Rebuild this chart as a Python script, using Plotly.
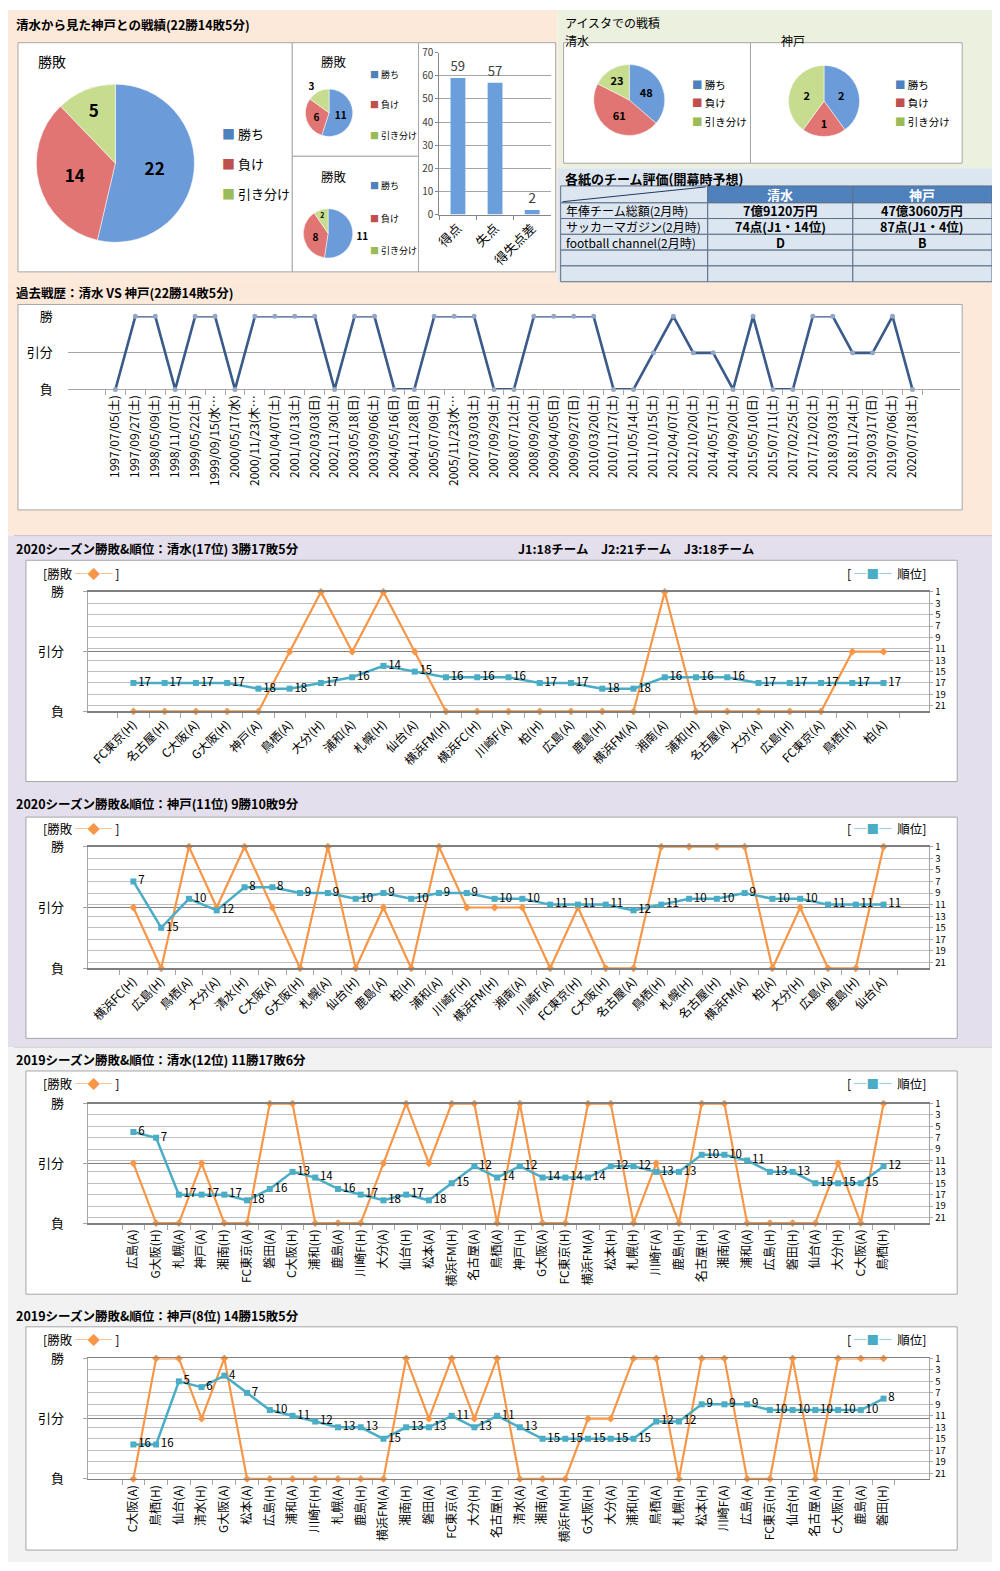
import plotly.graph_objects as go

# reference canvas is 1000x1571; the page adds an 8px body margin, so the figure is
# 984x1555 and every layout coordinate below is given in reference pixels.
W, H = 1000, 1571
OX, OY = 8, 8
FW, FH = W - 2 * OX, H - 2 * OY
JP = "Noto Sans CJK JP"

# ---------------- data ----------------
wl_labels = ["勝ち", "負け", "引き分け"]
vs_total = [22, 14, 5]
vs_small1 = [11, 6, 3]
vs_small2 = [11, 8, 2]
goal_cats = ["得点", "失点", "得失点差"]
goal_vals = [59, 57, 2]
aista_shimizu = [48, 61, 23]
aista_kobe = [2, 1, 2]

table_header = ["", "清水", "神戸"]
table_items = ["年俸チーム総額(2月時)", "サッカーマガジン(2月時)", "football channel(2月時)", "", ""]
table_shimizu = ["7億9120万円", "74点(J1・14位)", "D", "", ""]
table_kobe = ["47億3060万円", "87点(J1・4位)", "B", "", ""]

result_levels = ["負", "引分", "勝"]
rank_ticks = [1, 3, 5, 7, 9, 11, 13, 15, 17, 19, 21]

past_dates = ["1997/07/05(土)", "1997/09/27(土)", "1998/05/09(土)", "1998/11/07(土)",
              "1999/05/22(土)", "1999/09/15(水…", "2000/05/17(水)", "2000/11/23(木…",
              "2001/04/07(土)", "2001/10/13(土)", "2002/03/03(日)", "2002/11/30(土)",
              "2003/05/18(日)", "2003/09/06(土)", "2004/05/16(日)", "2004/11/28(日)",
              "2005/07/09(土)", "2005/11/23(水…", "2007/03/03(土)", "2007/09/29(土)",
              "2008/07/12(土)", "2008/09/20(土)", "2009/04/05(日)", "2009/09/27(日)",
              "2010/03/20(土)", "2010/11/27(土)", "2011/05/14(土)", "2011/10/15(土)",
              "2012/04/07(土)", "2012/10/20(土)", "2014/05/17(土)", "2014/09/20(土)",
              "2015/05/10(日)", "2015/07/11(土)", "2017/02/25(土)", "2017/12/02(土)",
              "2018/03/03(土)", "2018/11/24(土)", "2019/03/17(日)", "2019/07/06(土)",
              "2020/07/18(土)"]
past_results = ["負", "勝", "勝", "負", "勝", "勝", "負", "勝", "勝", "勝", "勝", "負",
                "勝", "勝", "負", "負", "勝", "勝", "勝", "負", "負", "勝", "勝", "勝",
                "勝", "負", "負", "引分", "勝", "引分", "引分", "負", "勝", "負", "負", "勝",
                "勝", "引分", "引分", "勝", "負"]

s2020_shimizu_opp = ["FC東京(H)", "名古屋(H)", "C大阪(A)", "G大阪(H)", "神戸(A)", "鳥栖(A)",
                     "大分(H)", "浦和(A)", "札幌(H)", "仙台(A)", "横浜FM(H)", "横浜FC(H)",
                     "川崎F(A)", "柏(H)", "広島(A)", "鹿島(H)", "横浜FM(A)", "湘南(A)",
                     "浦和(H)", "名古屋(A)", "大分(A)", "広島(H)", "FC東京(A)", "鳥栖(H)", "柏(A)"]
s2020_shimizu_res = ["負", "負", "負", "負", "負", "引分", "勝", "引分", "勝", "引分", "負", "負",
                     "負", "負", "負", "負", "負", "勝", "負", "負", "負", "負", "負", "引分", "引分"]
s2020_shimizu_rank = [17, 17, 17, 17, 18, 18, 17, 16, 14, 15, 16, 16, 16, 17, 17, 18, 18,
                      16, 16, 16, 17, 17, 17, 17, 17]

s2020_kobe_opp = ["横浜FC(H)", "広島(H)", "鳥栖(A)", "大分(A)", "清水(H)", "C大阪(A)", "G大阪(H)",
                  "札幌(A)", "仙台(H)", "鹿島(A)", "柏(H)", "浦和(A)", "川崎F(H)", "横浜FM(H)",
                  "湘南(A)", "川崎F(A)", "FC東京(H)", "C大阪(H)", "名古屋(A)", "鳥栖(H)", "札幌(H)",
                  "名古屋(H)", "横浜FM(A)", "柏(A)", "大分(H)", "広島(A)", "鹿島(H)", "仙台(A)"]
s2020_kobe_res = ["引分", "負", "勝", "引分", "勝", "引分", "負", "勝", "負", "引分", "負", "勝",
                  "引分", "引分", "引分", "負", "引分", "負", "負", "勝", "勝", "勝", "勝", "負",
                  "引分", "負", "負", "勝"]
s2020_kobe_rank = [7, 15, 10, 12, 8, 8, 9, 9, 10, 9, 10, 9, 9, 10, 10, 11, 11, 11, 12, 11,
                   10, 10, 9, 10, 10, 11, 11, 11]

s2019_shimizu_opp = ["広島(A)", "G大阪(H)", "札幌(A)", "神戸(A)", "湘南(H)", "FC東京(A)", "磐田(A)",
                     "C大阪(H)", "浦和(H)", "鹿島(A)", "川崎F(H)", "大分(A)", "仙台(H)", "松本(A)",
                     "横浜FM(H)", "名古屋(A)", "鳥栖(A)", "神戸(H)", "G大阪(A)", "FC東京(H)",
                     "横浜FM(A)", "松本(H)", "札幌(H)", "川崎F(A)", "鹿島(H)", "名古屋(H)", "湘南(A)",
                     "浦和(A)", "広島(H)", "磐田(H)", "仙台(A)", "大分(H)", "C大阪(A)", "鳥栖(H)"]
s2019_shimizu_res = ["引分", "負", "負", "引分", "負", "負", "勝", "勝", "負", "負", "負", "引分",
                     "勝", "引分", "勝", "勝", "負", "勝", "負", "負", "勝", "勝", "負", "引分",
                     "負", "勝", "勝", "負", "負", "負", "負", "引分", "負", "勝"]
s2019_shimizu_rank = [6, 7, 17, 17, 17, 18, 16, 13, 14, 16, 17, 18, 17, 18, 15, 12, 14, 12,
                      14, 14, 14, 12, 12, 13, 13, 10, 10, 11, 13, 13, 15, 15, 15, 12]

s2019_kobe_opp = ["C大阪(A)", "鳥栖(H)", "仙台(A)", "清水(H)", "G大阪(A)", "松本(A)", "広島(H)",
                  "浦和(A)", "川崎F(H)", "札幌(A)", "鹿島(H)", "横浜FM(A)", "湘南(H)", "磐田(A)",
                  "FC東京(A)", "大分(H)", "名古屋(H)", "清水(A)", "湘南(A)", "横浜FM(H)", "G大阪(H)",
                  "大分(A)", "浦和(H)", "鳥栖(A)", "札幌(H)", "松本(H)", "川崎F(A)", "広島(A)",
                  "FC東京(H)", "仙台(H)", "名古屋(A)", "C大阪(H)", "鹿島(A)", "磐田(H)"]
s2019_kobe_res = ["負", "勝", "勝", "引分", "勝", "負", "負", "負", "負", "負", "負", "負",
                  "勝", "引分", "勝", "引分", "勝", "負", "負", "負", "引分", "引分", "勝", "勝",
                  "負", "勝", "勝", "負", "負", "勝", "負", "勝", "勝", "勝"]
s2019_kobe_rank = [16, 16, 5, 6, 4, 7, 10, 11, 12, 13, 13, 15, 13, 13, 11, 13, 11, 13, 15,
                   15, 15, 15, 15, 12, 12, 9, 9, 9, 10, 10, 10, 10, 10, 8]

# ---------------- styles ----------------
PIE_COLORS = ["#6B9BD9", "#E07573", "#C6DC8F"]
LEG_COLORS = ["#4F81BD", "#C0504D", "#9BBB59"]
ORANGE = "#F79646"
TEAL = "#4BACC6"

shapes = []
annots = []


def fx(x):
    return (x - OX) / FW


def fy(y):
    return 1 - (y - OY) / FH


def xd(x0, x1):
    return [fx(x0), fx(x1)]


def yd(y0, y1):
    return [fy(y1), fy(y0)]


def rect(x0, y0, x1, y1, fill, line=None, lw=1, layer="below"):
    shapes.append(dict(type="rect", xref="paper", yref="paper",
                       x0=fx(x0), x1=fx(x1), y0=fy(y1), y1=fy(y0),
                       fillcolor=fill,
                       line=dict(color=line if line else "rgba(0,0,0,0)", width=lw if line else 0),
                       layer=layer))


def text(x, y, s, size=12, bold=False, color="#000000", xanchor="left", yanchor="middle"):
    annots.append(dict(xref="paper", yref="paper", x=fx(x), y=fy(y),
                       text=f"<b>{s}</b>" if bold else s, showarrow=False,
                       xanchor=xanchor, yanchor=yanchor,
                       font=dict(family=JP, size=size, color=color)))


def legend_block(x, ys, size=11):
    for lab, col, y in zip(wl_labels, LEG_COLORS, ys):
        text(x, y, f"<span style='color:{col}'>■</span> {lab}", size=size)


# ---------------- section backgrounds ----------------
rect(0, 0, 555, 275, "#FDE9D9")
rect(555, 0, 1000, 160, "#EBF1DE")
rect(555, 160, 1000, 275, "#DCE6F1")
rect(0, 275, 1000, 532, "#FDE9D9")
rect(0, 532, 1000, 1050, "#E4DFEC")
rect(0, 1050, 1000, 1571, "#F2F2F2")
shapes.append(dict(type="line", xref="paper", yref="paper", x0=0, x1=1,
                   y0=fy(532), y1=fy(532), line=dict(color="#C9C2D6", width=1)))
shapes.append(dict(type="line", xref="paper", yref="paper", x0=0, x1=1,
                   y0=fy(1050), y1=fy(1050), line=dict(color="#D0D0D0", width=1)))

# chart boxes
BOX = "#A6A6A6"
rect(12, 33, 288, 265, "white", BOX)
rect(288, 33, 415, 148, "white", BOX)
rect(288, 148, 415, 265, "white", BOX)
rect(415, 33, 553, 265, "white", BOX)
rect(561, 33, 749, 155, "white", BOX)
rect(749, 33, 962, 155, "white", BOX)
rect(12, 298, 962, 506, "white", BOX)
season_boxes = [(557, 781), (817, 1041), (1074, 1300), (1333, 1559)]
for (b0, b1) in season_boxes:
    rect(20, b0, 957, b1, "white", BOX)

fig = go.Figure()

# ---------------- titles ----------------
text(8, 15, "清水から見た神戸との戦績(22勝14敗5分)", 12.5, True)
text(560, 13, "アイスタでの戦積", 12)
text(560, 30.5, "清水", 12)
text(778, 30.5, "神戸", 12)
text(560, 170, "各紙のチーム評価(開幕時予想)", 13, True)
text(8, 286, "過去戦歴：清水 VS 神戸(22勝14敗5分)", 12.5, True)
text(8, 545, "2020シーズン勝敗&順位：清水(17位) 3勝17敗5分", 12.5, True)
text(513, 545, "J1:18チーム　J2:21チーム　J3:18チーム", 12.5, True)
text(8, 803, "2020シーズン勝敗&順位：神戸(11位) 9勝10敗9分", 12.5, True)
text(8, 1062, "2019シーズン勝敗&順位：清水(12位) 11勝17敗6分", 12.5, True)
text(8, 1322, "2019シーズン勝敗&順位：神戸(8位) 14勝15敗5分", 12.5, True)

# ---------------- pies ----------------
def add_pie(vals, x0, y0, x1, y1, size, textpos="inside"):
    fig.add_trace(go.Pie(labels=wl_labels, values=vals,
                         domain=dict(x=xd(x0, x1), y=yd(y0, y1)),
                         sort=False, direction="clockwise", rotation=0,
                         marker=dict(colors=PIE_COLORS, line=dict(color="white", width=0.5)),
                         textinfo="value", textposition=textpos,
                         insidetextorientation="horizontal",
                         textfont=dict(size=size, color="black", family=JP, weight="bold"),
                         showlegend=False, hoverinfo="skip"))


add_pie(vs_total, 30, 75, 190, 235, 17)
text(30, 52, "勝敗", 14)
legend_block(215, [125, 155, 186], 13)

add_pie(vs_small1, 301, 80, 349, 128, 10, ["inside", "inside", "outside"])
text(330, 52, "勝敗", 12.5, xanchor="center")
legend_block(364, [65, 96, 127], 9)

add_pie(vs_small2, 299, 201, 349, 251, 10, ["outside", "inside", "inside"])
text(330, 168, "勝敗", 12.5, xanchor="center")
legend_block(364, [178, 211, 243], 9)

add_pie(aista_shimizu, 591, 55, 663, 127, 11)
legend_block(688, [75, 94, 113], 10.5)

add_pie(aista_kobe, 787, 56, 859, 128, 11)
legend_block(892, [75, 94, 113], 10.5)

# ---------------- bar chart ----------------
fig.add_trace(go.Bar(x=goal_cats, y=goal_vals, xaxis="x", yaxis="y",
                     marker=dict(color="#6A9FDB", line=dict(width=0)), width=0.4,
                     text=goal_vals, textposition="outside", cliponaxis=False,
                     textfont=dict(size=14, color="#404040", family=JP),
                     showlegend=False, hoverinfo="skip"))

layout_axes = dict(
    xaxis=dict(domain=xd(436, 548), anchor="y", tickangle=-45, showline=True,
               linecolor="#868686", ticks="outside", tickson="boundaries", ticklen=4,
               tickcolor="#868686", tickfont=dict(size=13, family=JP, color="#000"),
               fixedrange=True),
    yaxis=dict(domain=yd(43, 207), anchor="x", range=[0, 70], dtick=10, showgrid=True,
               gridcolor="#A6A6A6", showline=True, linecolor="#868686", ticks="outside",
               ticklen=3, tickcolor="#868686", zeroline=False,
               tickfont=dict(size=10, family=JP, color="#404040"), fixedrange=True),
)

# ---------------- past results chart ----------------
fig.add_trace(go.Scatter(x=past_dates, y=past_results, xaxis="x2", yaxis="y2",
                         mode="lines+markers",
                         line=dict(color="#3A5A8A", width=2.6),
                         marker=dict(size=5, color="#93A6C6"),
                         showlegend=False, hoverinfo="skip", cliponaxis=False))
layout_axes["xaxis2"] = dict(domain=xd(62, 960), anchor="y2", type="category",
                             categoryorder="array", categoryarray=past_dates,
                             tickangle=-90, showline=True, linecolor="#A6A6A6",
                             ticks="outside", tickson="boundaries", ticklen=5,
                             tickcolor="#A6A6A6",
                             tickfont=dict(size=12, family=JP, color="#000"))
layout_axes["yaxis2"] = dict(domain=yd(310, 384), anchor="x2", type="category",
                             categoryorder="array", categoryarray=result_levels,
                             range=[0, 2], showgrid=True, gridcolor="#A6A6A6",
                             gridwidth=1, zeroline=False, showline=False,
                             ticklabelstandoff=14,
                             tickfont=dict(size=13, family=JP, color="#000"))

# ---------------- season charts ----------------
seasons = [
    (s2020_shimizu_opp, s2020_shimizu_res, s2020_shimizu_rank, -45, (589, 710), 570),
    (s2020_kobe_opp, s2020_kobe_res, s2020_kobe_rank, -45, (847, 970), 829),
    (s2019_shimizu_opp, s2019_shimizu_res, s2019_shimizu_rank, -90, (1107, 1228), 1087),
    (s2019_kobe_opp, s2019_kobe_res, s2019_kobe_rank, -90, (1365, 1487), 1346),
]

for k, (opp, res, rank, ang, (pt, pb), legy) in enumerate(seasons):
    xi = 3 + k
    yl = 3 + 2 * k
    yr = 4 + 2 * k
    fig.add_trace(go.Scatter(x=opp, y=res, xaxis=f"x{xi}", yaxis=f"y{yl}",
                             mode="lines+markers",
                             line=dict(color=ORANGE, width=2.2),
                             marker=dict(symbol="diamond", size=6, color=ORANGE),
                             showlegend=False, hoverinfo="skip", cliponaxis=False))
    fig.add_trace(go.Scatter(x=opp, y=rank, xaxis=f"x{xi}", yaxis=f"y{yr}",
                             mode="lines+markers+text",
                             line=dict(color=TEAL, width=2.5),
                             marker=dict(symbol="square", size=6, color=TEAL),
                             text=[str(r) for r in rank], textposition="middle right",
                             textfont=dict(size=11.5, family=JP, color="#000"),
                             showlegend=False, hoverinfo="skip", cliponaxis=False))
    layout_axes[f"xaxis{xi}"] = dict(domain=xd(82, 929), anchor=f"y{yl}", type="category",
                                     categoryorder="array", categoryarray=opp,
                                     tickangle=ang, showline=True, mirror=True,
                                     linecolor="#808080", linewidth=1.5,
                                     ticks="outside", tickson="boundaries", ticklen=5,
                                     tickcolor="#A6A6A6",
                                     tickfont=dict(size=12, family=JP, color="#000"))
    layout_axes[f"yaxis{yl}"] = dict(domain=yd(pt, pb), anchor=f"x{xi}", type="category",
                                     categoryorder="array", categoryarray=result_levels,
                                     range=[0, 2], showgrid=True, gridcolor="#7F7F7F",
                                     gridwidth=1.5, zeroline=False, showline=True,
                                     linecolor="#A6A6A6", ticks="outside", ticklen=4,
                                     tickcolor="#A6A6A6", ticklabelstandoff=16,
                                     tickfont=dict(size=13, family=JP, color="#000"))
    layout_axes[f"yaxis{yr}"] = dict(overlaying=f"y{yl}", anchor=f"x{xi}", side="right",
                                     range=[22, 1], tickvals=rank_ticks, showgrid=True,
                                     gridcolor="#BFBFBF", gridwidth=1, zeroline=False,
                                     showline=True, linecolor="#A6A6A6", ticks="outside",
                                     ticklen=3, tickcolor="#A6A6A6",
                                     tickfont=dict(size=9.5, family=JP, color="#000"))
    text(35, legy, f"[勝敗 <span style='color:{ORANGE}'>─◆─</span> ]", 12.5)
    text(928, legy, f"[ <span style='color:{TEAL}'>─■─</span>  順位]", 12.5, xanchor="right")

# ---------------- table (cells drawn as shapes + text) ----------------
col_edges = [558, 706, 852, 992]
row_edges = [178, 195, 211, 227, 243, 259, 275]
TBL_LINE = "#5F6F86"
for c in range(3):
    hx0, hx1 = col_edges[c], col_edges[c + 1]
    rect(hx0, row_edges[0], hx1, row_edges[1], "#DCE6F1" if c == 0 else "#4F81BD",
         TBL_LINE, 1, layer="above")
    if table_header[c]:
        text((hx0 + hx1) / 2, (row_edges[0] + row_edges[1]) / 2 + 0.5, table_header[c],
             13, True, "white", xanchor="center")
body_cols = [table_items, table_shimizu, table_kobe]
for r in range(len(table_items)):
    ry0, ry1 = row_edges[r + 1], row_edges[r + 2]
    for c in range(3):
        rect(col_edges[c], ry0, col_edges[c + 1], ry1, "#DCE6F1", TBL_LINE, 1, layer="below")
        val = body_cols[c][r]
        if val:
            if c == 0:
                text(col_edges[0] + 3, (ry0 + ry1) / 2, val, 12)
            else:
                text((col_edges[c] + col_edges[c + 1]) / 2, (ry0 + ry1) / 2, val, 12.5,
                     True, xanchor="center")
shapes.append(dict(type="line", xref="paper", yref="paper",
                   x0=fx(560), y0=fy(194), x1=fx(704), y1=fy(179),
                   line=dict(color="#1F3864", width=1)))

fig.update_layout(
    width=FW, height=FH, autosize=False,
    margin=dict(l=0, r=0, t=0, b=0),
    paper_bgcolor="white", plot_bgcolor="rgba(0,0,0,0)",
    font=dict(family=JP, size=12, color="#000"),
    showlegend=False, hovermode=False,
    shapes=shapes, annotations=annots,
    **layout_axes,
)

fig.write_html("out.html", config={"displayModeBar": False, "staticPlot": True})
